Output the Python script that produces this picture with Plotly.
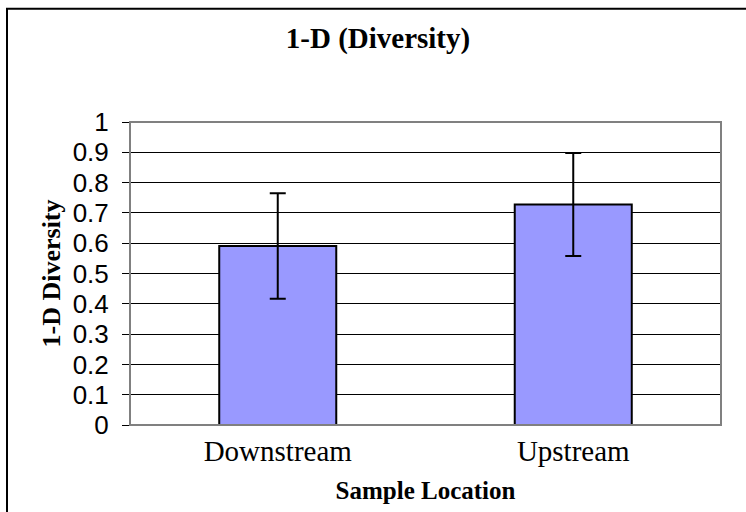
import plotly.graph_objects as go

categories = ["Downstream", "Upstream"]
values = [0.591, 0.728]
errors = [0.174, 0.170]
y_ticks = [0, 0.1, 0.2, 0.3, 0.4, 0.5, 0.6, 0.7, 0.8, 0.9, 1]
y_tick_labels = ["0", "0.1", "0.2", "0.3", "0.4", "0.5", "0.6", "0.7", "0.8", "0.9", "1"]

W, H = 746, 512
L, R, T, B = 130, 25, 122, 85
pw, ph = W - L - R, H - T - B

fig = go.Figure()
fig.add_trace(go.Bar(
    x=categories, y=values,
    marker=dict(color="#9999FF", line=dict(color="black", width=2)),
    error_y=dict(type="data", array=errors, visible=True, color="black", thickness=2, width=8),
    width=0.396,
))

fig.update_layout(
    width=W, height=H,
    margin=dict(l=L, r=R, t=T, b=B),
    paper_bgcolor="white", plot_bgcolor="white",
    showlegend=False,
    title=dict(text="<b>1-D (Diversity)</b>", x=378 / W, xref="container", xanchor="center",
               y=1 - 38 / H, yanchor="middle",
               font=dict(family="Liberation Serif", size=29, color="black")),
    xaxis=dict(
        showgrid=False, ticks="", showline=False,
        tickfont=dict(family="Liberation Serif", size=29, color="black"),
        ticklabelstandoff=6,
        title=dict(text="<b>Sample Location</b>", standoff=15,
                   font=dict(family="Liberation Serif", size=25, color="black")),
    ),
    yaxis=dict(
        range=[0, 1], tickvals=y_ticks, ticktext=y_tick_labels,
        showgrid=True, gridcolor="black", gridwidth=1,
        ticks="outside", ticklen=7, tickcolor="black", tickwidth=1,
        ticklabelstandoff=8,
        showline=True, linecolor="black", linewidth=1,
        tickfont=dict(family="Liberation Sans", size=26, color="black"),
        title=dict(text="<b>1-D Diversity</b>", standoff=4,
                   font=dict(family="Liberation Serif", size=26, color="black")),
        zeroline=False,
    ),
)

# plot-area border (gray)
fig.add_shape(type="rect", xref="paper", yref="paper", x0=0, x1=1, y0=0, y1=1,
              line=dict(color="#808080", width=2), layer="above")
# outer chart frame (right and bottom edges run off the picture)
fig.add_shape(type="rect", xref="paper", yref="paper",
              x0=(7 - L) / pw, x1=1 + (R + 10) / pw,
              y0=-(B + 10) / ph, y1=1 + (T - 8) / ph,
              line=dict(color="black", width=2), layer="above")

fig.write_html("out.html", config={"displayModeBar": False},
               post_script="document.body.style.margin='0';")
